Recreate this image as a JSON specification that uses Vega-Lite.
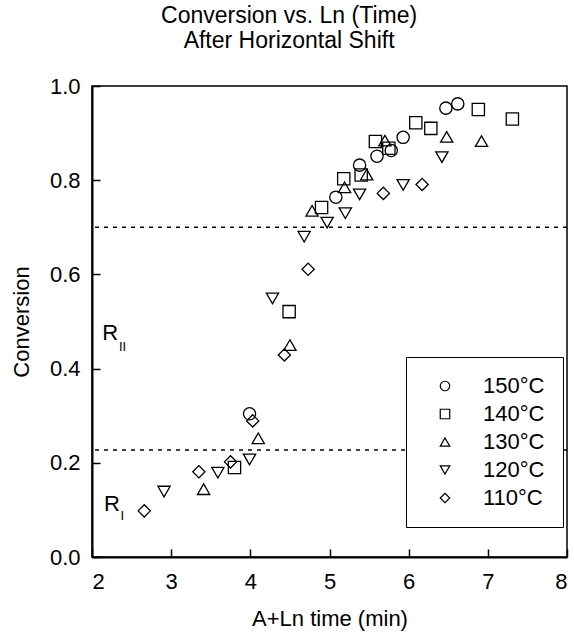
{
  "$schema": "https://vega.github.io/schema/vega-lite/v6.json",
  "autosize": "none",
  "width": 475,
  "height": 471,
  "padding": {"left": 92, "top": 86, "right": 7, "bottom": 79},
  "background": "white",
  "config": {
    "font": "Liberation Sans",
    "view": {"stroke": "black", "strokeWidth": 1.5},
    "axis": {
      "domainColor": "black", "domainWidth": 2, "tickColor": "black", "tickWidth": 1.5,
      "tickSize": -8, "labelColor": "black", "labelFontSize": 22, "labelFont": "Liberation Sans",
      "titleColor": "black", "titleFontSize": 22, "titleFontWeight": "normal", "titleFont": "Liberation Sans",
      "grid": false
    }
  },
  "title": {
    "text": ["Conversion vs. Ln (Time)", "After Horizontal Shift"],
    "fontSize": 23, "fontWeight": "normal", "font": "Liberation Sans", "color": "black",
    "anchor": "middle", "frame": "bounds", "lineHeight": 25, "offset": 22
  },
  "datasets": {
    "points": [
      {"x": 6.47, "y": 0.953, "T": "150°C"}, {"x": 6.62, "y": 0.962, "T": "150°C"}, {"x": 5.93, "y": 0.891, "T": "150°C"},
      {"x": 5.78, "y": 0.863, "T": "150°C"}, {"x": 5.60, "y": 0.851, "T": "150°C"}, {"x": 5.38, "y": 0.832, "T": "150°C"},
      {"x": 5.08, "y": 0.764, "T": "150°C"}, {"x": 3.99, "y": 0.304, "T": "150°C"},
      {"x": 6.88, "y": 0.950, "T": "140°C"}, {"x": 7.31, "y": 0.930, "T": "140°C"}, {"x": 6.09, "y": 0.922, "T": "140°C"},
      {"x": 6.28, "y": 0.910, "T": "140°C"}, {"x": 5.58, "y": 0.882, "T": "140°C"}, {"x": 5.75, "y": 0.868, "T": "140°C"},
      {"x": 5.40, "y": 0.811, "T": "140°C"}, {"x": 5.18, "y": 0.803, "T": "140°C"}, {"x": 4.90, "y": 0.742, "T": "140°C"},
      {"x": 4.49, "y": 0.521, "T": "140°C"}, {"x": 3.80, "y": 0.190, "T": "140°C"},
      {"x": 6.48, "y": 0.892, "T": "130°C"}, {"x": 6.92, "y": 0.883, "T": "130°C"}, {"x": 5.70, "y": 0.884, "T": "130°C"},
      {"x": 5.47, "y": 0.812, "T": "130°C"}, {"x": 5.19, "y": 0.785, "T": "130°C"}, {"x": 4.78, "y": 0.735, "T": "130°C"},
      {"x": 4.50, "y": 0.450, "T": "130°C"}, {"x": 4.10, "y": 0.252, "T": "130°C"}, {"x": 3.41, "y": 0.144, "T": "130°C"},
      {"x": 6.42, "y": 0.849, "T": "120°C"}, {"x": 5.93, "y": 0.790, "T": "120°C"}, {"x": 5.38, "y": 0.770, "T": "120°C"},
      {"x": 5.20, "y": 0.730, "T": "120°C"}, {"x": 4.97, "y": 0.710, "T": "120°C"}, {"x": 4.68, "y": 0.680, "T": "120°C"},
      {"x": 4.28, "y": 0.549, "T": "120°C"}, {"x": 3.99, "y": 0.207, "T": "120°C"}, {"x": 3.59, "y": 0.179, "T": "120°C"},
      {"x": 2.91, "y": 0.139, "T": "120°C"},
      {"x": 6.17, "y": 0.791, "T": "110°C"}, {"x": 5.68, "y": 0.772, "T": "110°C"}, {"x": 4.73, "y": 0.611, "T": "110°C"},
      {"x": 4.43, "y": 0.429, "T": "110°C"}, {"x": 4.03, "y": 0.289, "T": "110°C"}, {"x": 3.75, "y": 0.202, "T": "110°C"},
      {"x": 3.35, "y": 0.181, "T": "110°C"}, {"x": 2.66, "y": 0.098, "T": "110°C"}
    ],
    "lines": [{"y": 0.70}, {"y": 0.227}],
    "labels": [{"x": 2.13, "y": 0.476, "t": "R"}, {"x": 2.15, "y": 0.113, "t": "R"}],
    "subs": [{"x": 2.34, "y": 0.446, "t": "II"}, {"x": 2.36, "y": 0.088, "t": "I"}]
  },
  "layer": [
    {
      "data": {"name": "lines"},
      "mark": {"type": "rule", "color": "black", "strokeWidth": 1.5, "strokeDash": [4, 5]},
      "encoding": {"y": {"field": "y", "type": "quantitative", "scale": {"domain": [0, 1]}}}
    },
    {
      "data": {"name": "points"},
      "mark": {"type": "point", "filled": false, "stroke": "black", "strokeWidth": 1.3, "size": 150, "opacity": 1},
      "encoding": {
        "x": {"field": "x", "type": "quantitative", "scale": {"domain": [2, 8], "nice": false},
              "axis": {"title": "A+Ln time (min)", "values": [2, 3, 4, 5, 6, 7, 8], "format": "d", "labelPadding": 22, "titlePadding": 16}},
        "y": {"field": "y", "type": "quantitative", "scale": {"domain": [0, 1], "nice": false},
              "axis": {"title": "Conversion", "values": [0, 0.2, 0.4, 0.6, 0.8, 1.0], "format": ".1f", "labelPadding": 20, "titlePadding": 16}},
        "shape": {"field": "T", "type": "nominal",
                  "scale": {"domain": ["150°C", "140°C", "130°C", "120°C", "110°C"],
                            "range": ["circle", "square", "triangle-up", "triangle-down", "diamond"]},
                  "legend": {"title": null, "orient": "none", "legendX": 314, "legendY": 271,
                             "strokeColor": "black", "fillColor": "white", "padding": 18,
                             "symbolOffset": 10, "symbolSize": 90, "symbolStrokeColor": "black", "symbolStrokeWidth": 1.2,
                             "symbolFillColor": "transparent",
                             "labelFontSize": 22, "labelColor": "black", "labelFont": "Liberation Sans",
                             "labelOffset": 27, "rowPadding": 6}}
      }
    },
    {
      "data": {"name": "labels"},
      "mark": {"type": "text", "fontSize": 22, "align": "left", "baseline": "middle", "fill": "black"},
      "encoding": {"x": {"field": "x", "type": "quantitative"}, "y": {"field": "y", "type": "quantitative"}, "text": {"field": "t"}}
    },
    {
      "data": {"name": "subs"},
      "mark": {"type": "text", "fontSize": 13, "align": "left", "baseline": "middle", "fill": "black"},
      "encoding": {"x": {"field": "x", "type": "quantitative"}, "y": {"field": "y", "type": "quantitative"}, "text": {"field": "t"}}
    }
  ]
}
